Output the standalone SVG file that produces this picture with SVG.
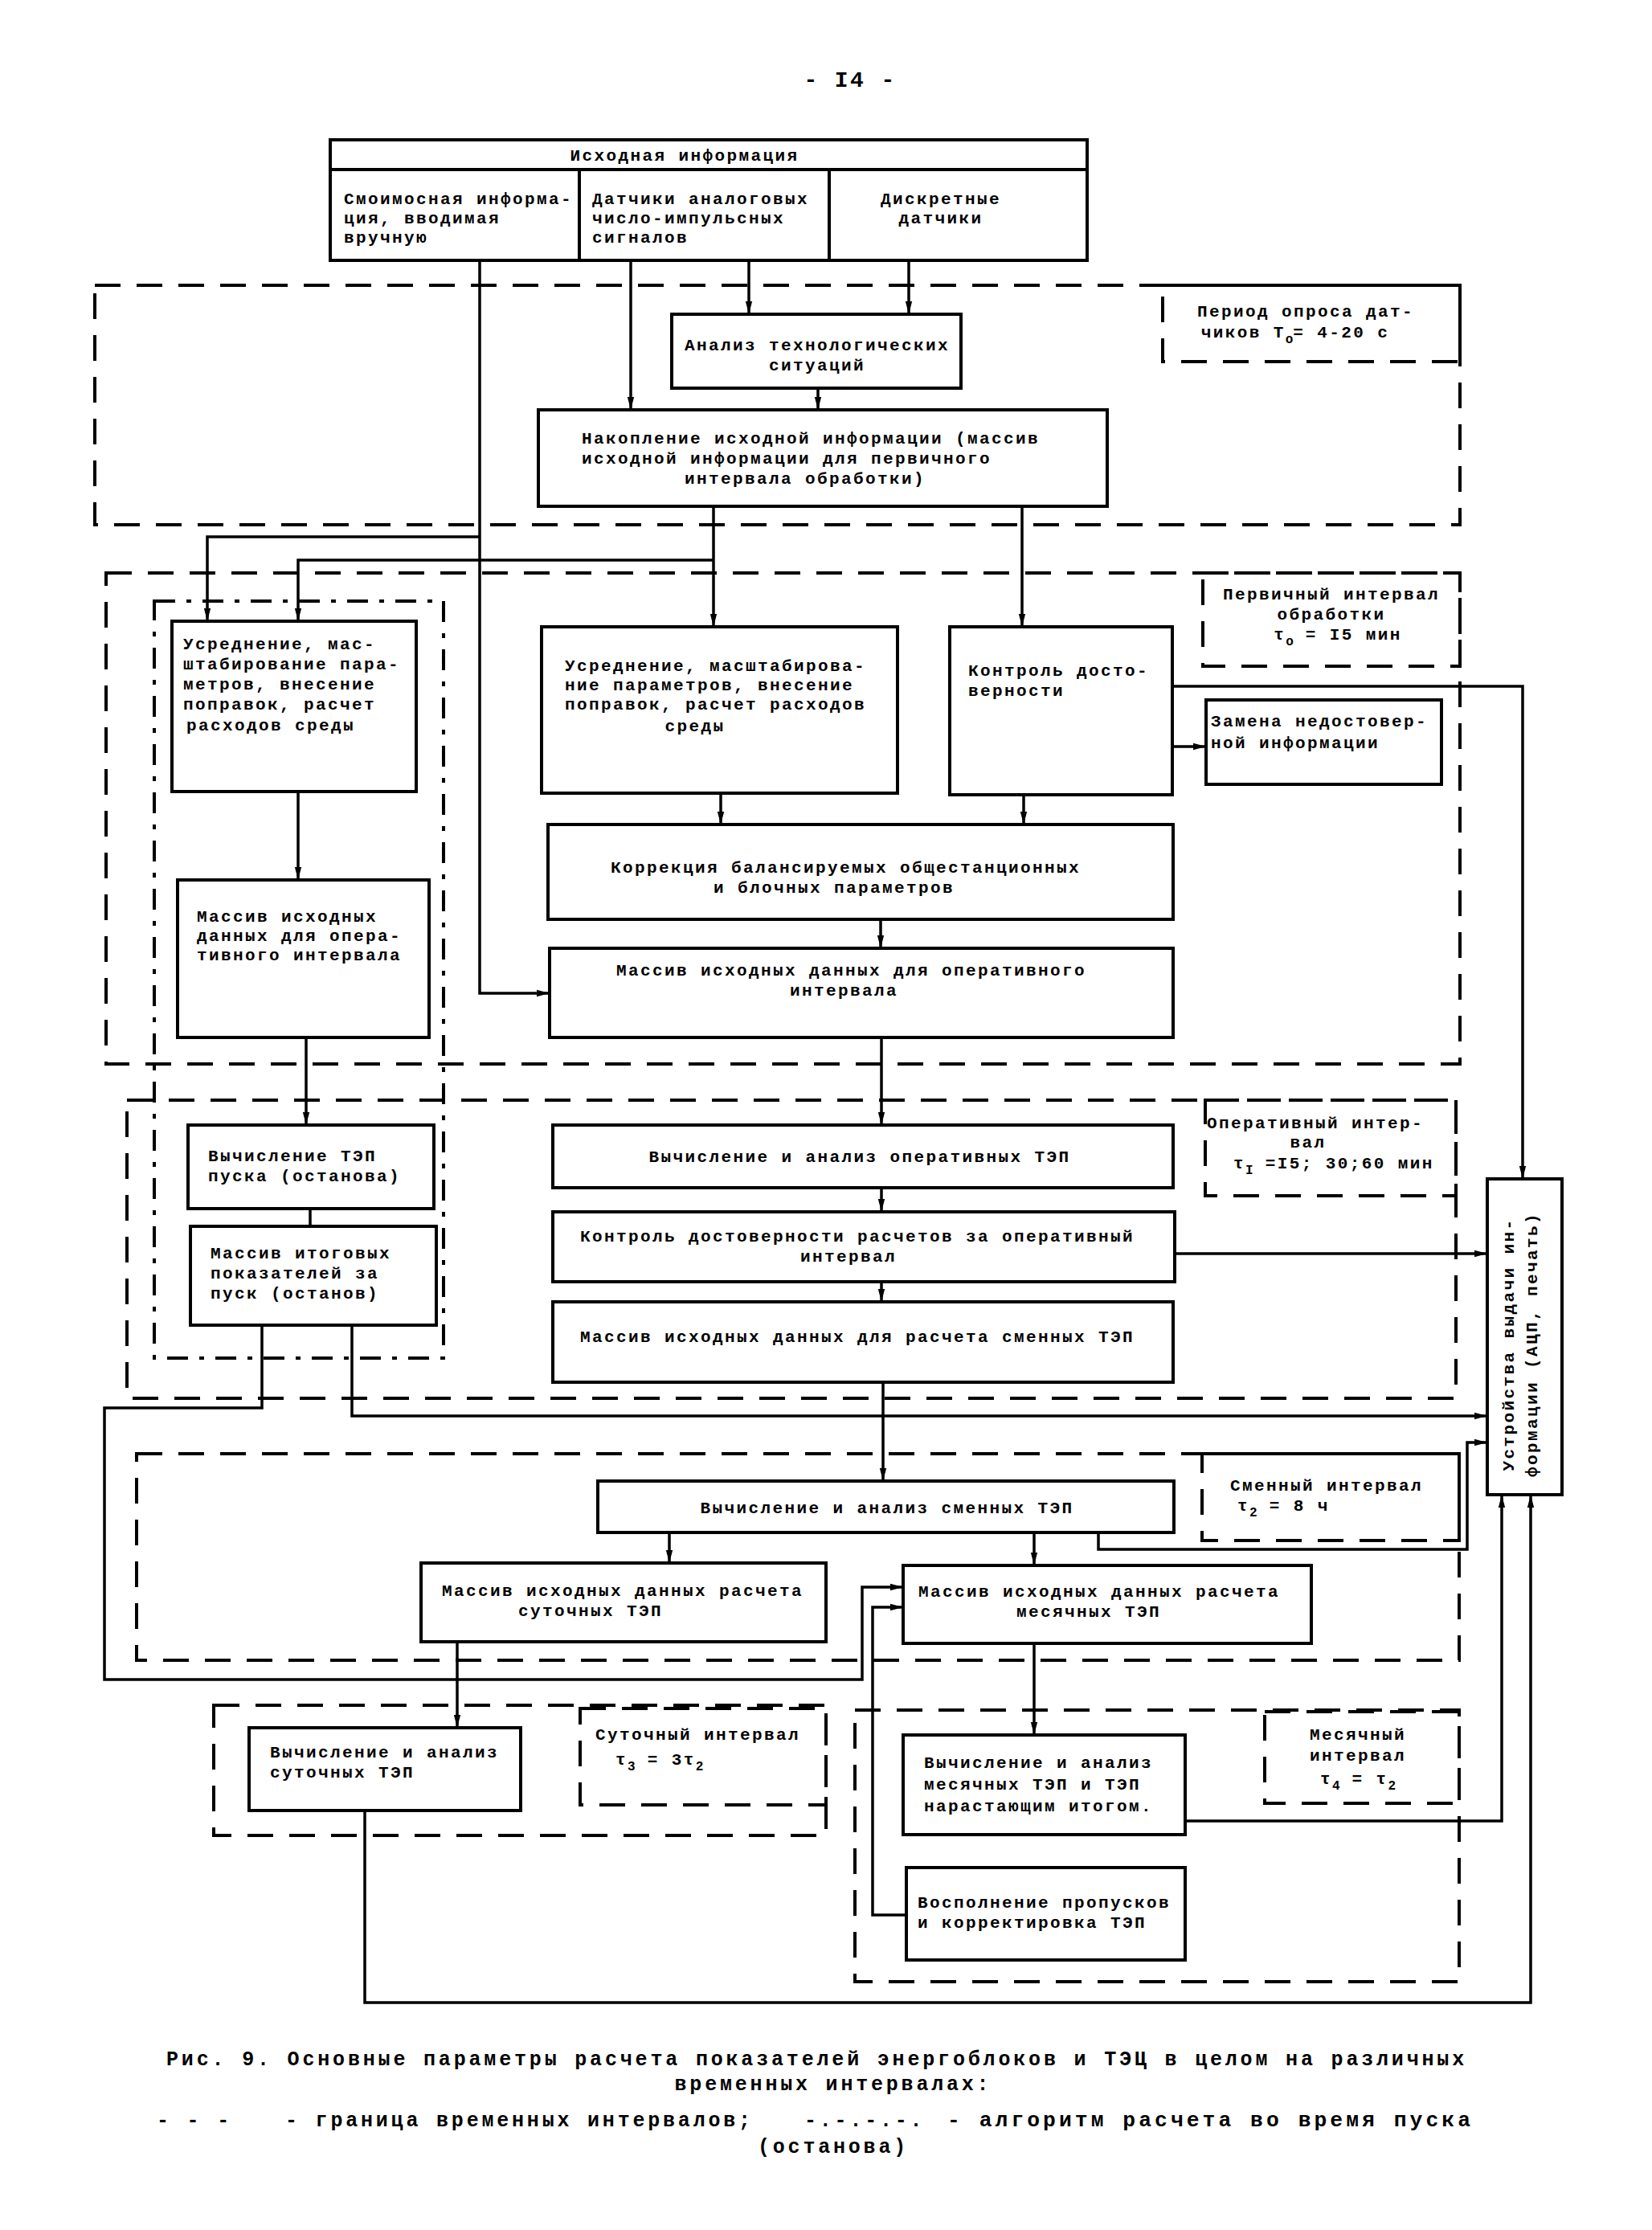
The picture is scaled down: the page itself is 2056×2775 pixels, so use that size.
<svg xmlns="http://www.w3.org/2000/svg" width="2056" height="2775" viewBox="0 0 2056 2775">
<defs>
<style>
.box{fill:none;stroke:#000;stroke-width:4}
.reg{fill:none;stroke:#000;stroke-width:4;stroke-dasharray:32 20}
.dd{fill:none;stroke:#000;stroke-width:4;stroke-dasharray:26 14 6 14}
.con{fill:none;stroke:#000;stroke-width:3.5}
text{font-family:"Liberation Mono","DejaVu Sans Mono",monospace;font-size:21px;letter-spacing:2.4px;font-weight:bold;fill:#000}
.c{text-anchor:middle}
.cap{font-size:25px;letter-spacing:3.8px}
.sub{font-size:16px;letter-spacing:0}
</style>
<marker id="ah" viewBox="0 0 10 10" refX="10" refY="5" markerWidth="16" markerHeight="16" markerUnits="userSpaceOnUse" orient="auto"><path d="M0,2.4 L10,5 L0,7.6 z" fill="#000"/></marker>
</defs>
<rect x="0" y="0" width="2056" height="2775" fill="#fff"/>

<text x="1058" y="108" class="c" style="font-size:28px">- I4 -</text>

<g id="regions">
<rect id="reg-poll" class="reg" x="118" y="355" width="1699" height="298"/>
<rect id="lbl-poll" class="reg" x="1447" y="355" width="370" height="95"/>
<rect id="reg-primary" class="reg" x="132" y="713" width="1685" height="611"/>
<rect id="lbl-primary" class="reg" x="1497" y="713" width="320" height="116"/>
<rect id="reg-start" class="dd" x="192" y="748" width="360" height="942"/>
<rect id="reg-oper" class="reg" x="158" y="1369" width="1654" height="371"/>
<rect id="lbl-oper" class="reg" x="1500" y="1369" width="312" height="119"/>
<rect id="reg-shift" class="reg" x="170" y="1809" width="1646" height="257"/>
<rect id="lbl-shift" class="reg" x="1496" y="1809" width="320" height="108"/>
<rect id="reg-day" class="reg" x="266" y="2122" width="762" height="162"/>
<rect id="lbl-day" class="reg" x="722" y="2126" width="306" height="120"/>
<rect id="reg-month" class="reg" x="1064" y="2128" width="752" height="338"/>
<rect id="lbl-month" class="reg" x="1574" y="2130" width="242" height="114"/>
</g>

<g id="region-labels">
<text x="1625" y="394" class="c">Период опроса дат-</text>
<text x="1612" y="420" class="c">чиков Т<tspan dy="7" class="sub">о</tspan><tspan dy="-7">= 4-20 с</tspan></text>
<text x="1657" y="746" class="c">Первичный интервал</text>
<text x="1657" y="771" class="c">обработки</text>
<text x="1665" y="796" class="c">τ<tspan dy="7" class="sub">о</tspan><tspan dy="-7"> = I5 мин</tspan></text>
<text x="1502" y="1404">Оперативный интер-</text>
<text x="1628" y="1428" class="c">вал</text>
<text x="1535" y="1454">τ<tspan dy="7" class="sub">I</tspan><tspan dy="-7"> =I5; 30;60 мин</tspan></text>
<text x="1531" y="1855">Сменный интервал</text>
<text x="1540" y="1880">τ<tspan dy="7" class="sub">2</tspan><tspan dy="-7"> = 8 ч</tspan></text>
<text x="741" y="2165">Суточный интервал</text>
<text x="766" y="2196">τ<tspan dy="7" class="sub">3</tspan><tspan dy="-7"> = 3τ</tspan><tspan dy="7" class="sub">2</tspan></text>
<text x="1690" y="2165" class="c">Месячный</text>
<text x="1690" y="2191" class="c">интервал</text>
<text x="1690" y="2220" class="c">τ<tspan dy="7" class="sub">4</tspan><tspan dy="-7"> =  τ</tspan><tspan dy="7" class="sub">2</tspan></text>
</g>

<g id="connectors">
<path class="con" d="M597,324 V1236 H684" marker-end="url(#ah)"/>
<path class="con" d="M597,668 H258 V773" marker-end="url(#ah)"/>
<path class="con" d="M785,324 V510" marker-end="url(#ah)"/>
<path class="con" d="M932,324 V391" marker-end="url(#ah)"/>
<path class="con" d="M1131,324 V391" marker-end="url(#ah)"/>
<path class="con" d="M1018,483 V510" marker-end="url(#ah)"/>
<path class="con" d="M888,630 V780" marker-end="url(#ah)"/>
<path class="con" d="M888,697 H371 V773" marker-end="url(#ah)"/>
<path class="con" d="M1272,630 V780" marker-end="url(#ah)"/>
<path class="con" d="M897,987 V1026" marker-end="url(#ah)"/>
<path class="con" d="M1274,989 V1026" marker-end="url(#ah)"/>
<path class="con" d="M1459,929 H1501" marker-end="url(#ah)"/>
<path class="con" d="M1459,854 H1895 V1467" marker-end="url(#ah)"/>
<path class="con" d="M371,985 V1095" marker-end="url(#ah)"/>
<path class="con" d="M1096,1144 V1180" marker-end="url(#ah)"/>
<path class="con" d="M381,1291 V1400" marker-end="url(#ah)"/>
<path class="con" d="M1097,1291 V1400" marker-end="url(#ah)"/>
<path class="con" d="M1097,1478 V1508" marker-end="url(#ah)"/>
<path class="con" d="M1097,1595 V1620" marker-end="url(#ah)"/>
<path class="con" d="M386,1504 V1526"/>
<path class="con" d="M1462,1560 H1851" marker-end="url(#ah)"/>
<path class="con" d="M326,1649 V1752 H130 V2090 H1073 V1975 H1124" marker-end="url(#ah)"/>
<path class="con" d="M438,1649 V1762 H1851" marker-end="url(#ah)"/>
<path class="con" d="M1099,1720 V1843" marker-end="url(#ah)"/>
<path class="con" d="M1367,1907 V1928 H1826 V1795 H1851" marker-end="url(#ah)"/>
<path class="con" d="M833,1907 V1945" marker-end="url(#ah)"/>
<path class="con" d="M1287,1907 V1948" marker-end="url(#ah)"/>
<path class="con" d="M1128,2383 H1086 V2000 H1124" marker-end="url(#ah)"/>
<path class="con" d="M569,2043 V2150" marker-end="url(#ah)"/>
<path class="con" d="M1287,2045 V2159" marker-end="url(#ah)"/>
<path class="con" d="M1475,2266 H1869 V1860" marker-end="url(#ah)"/>
<path class="con" d="M454,2253 V2492 H1905 V1860" marker-end="url(#ah)"/>
</g>

<g id="n-source">
<rect class="box" x="411" y="174" width="942" height="150"/>
<path class="box" d="M411,211 H1353 M721,211 V324 M1032,211 V324"/>
<text x="852" y="200" class="c">Исходная информация</text>
<text x="428" y="254">Смоимосная информа-</text>
<text x="428" y="278">ция, вводимая</text>
<text x="428" y="302">вручную</text>
<text x="737" y="254">Датчики аналоговых</text>
<text x="737" y="278">число-импульсных</text>
<text x="737" y="302">сигналов</text>
<text x="1171" y="254" class="c">Дискретные</text>
<text x="1171" y="278" class="c">датчики</text>
</g>

<g id="n-analiz">
<rect class="box" x="836" y="391" width="360" height="92"/>
<text x="1017" y="436" class="c">Анализ технологических</text>
<text x="1017" y="461" class="c">ситуаций</text>
</g>

<g id="n-nakop">
<rect class="box" x="670" y="510" width="708" height="120"/>
<text x="724" y="552">Накопление исходной информации (массив</text>
<text x="724" y="577">исходной информации для первичного</text>
<text x="1002" y="602" class="c">интервала обработки)</text>
</g>

<g id="n-usr-left">
<rect class="box" x="214" y="773" width="304" height="212"/>
<text x="228" y="808">Усреднение, мас-</text>
<text x="228" y="833">штабирование пара-</text>
<text x="228" y="858">метров, внесение</text>
<text x="228" y="883">поправок, расчет</text>
<text x="232" y="909">расходов среды</text>
</g>

<g id="n-mass-left">
<rect class="box" x="221" y="1095" width="313" height="196"/>
<text x="245" y="1147">Массив исходных</text>
<text x="245" y="1171">данных для опера-</text>
<text x="245" y="1195">тивного интервала</text>
</g>

<g id="n-usr-mid">
<rect class="box" x="674" y="780" width="443" height="207"/>
<text x="703" y="835">Усреднение, масштабирова-</text>
<text x="703" y="859">ние параметров, внесение</text>
<text x="703" y="883">поправок, расчет расходов</text>
<text x="865" y="910" class="c">среды</text>
</g>

<g id="n-kontrol">
<rect class="box" x="1182" y="780" width="277" height="209"/>
<text x="1205" y="841">Контроль досто-</text>
<text x="1205" y="866">верности</text>
</g>

<g id="n-zamena">
<rect class="box" x="1501" y="871" width="293" height="105"/>
<text x="1507" y="904">Замена недостовер-</text>
<text x="1507" y="931">ной информации</text>
</g>

<g id="n-korr">
<rect class="box" x="682" y="1026" width="778" height="118"/>
<text x="760" y="1086">Коррекция балансируемых общестанционных</text>
<text x="888" y="1111">и блочных параметров</text>
</g>

<g id="n-mass-oper">
<rect class="box" x="684" y="1180" width="776" height="111"/>
<text x="767" y="1214">Массив исходных данных для оперативного</text>
<text x="983" y="1239">интервала</text>
</g>

<g id="n-vych-pusk">
<rect class="box" x="234" y="1400" width="306" height="104"/>
<text x="259" y="1445">Вычисление ТЭП</text>
<text x="259" y="1470">пуска (останова)</text>
</g>

<g id="n-mass-itog">
<rect class="box" x="237" y="1526" width="306" height="123"/>
<text x="262" y="1566">Массив итоговых</text>
<text x="262" y="1591">показателей за</text>
<text x="262" y="1616">пуск (останов)</text>
</g>

<g id="n-vych-oper">
<rect class="box" x="688" y="1400" width="772" height="78"/>
<text x="1070" y="1446" class="c">Вычисление и анализ оперативных ТЭП</text>
</g>

<g id="n-kontr-rasch">
<rect class="box" x="688" y="1508" width="774" height="87"/>
<text x="722" y="1545">Контроль достоверности расчетов за оперативный</text>
<text x="996" y="1570">интервал</text>
</g>

<g id="n-mass-smen">
<rect class="box" x="688" y="1620" width="772" height="100"/>
<text x="722" y="1670">Массив исходных данных для расчета сменных ТЭП</text>
</g>

<g id="n-vych-smen">
<rect class="box" x="744" y="1843" width="717" height="64"/>
<text x="1104" y="1883" class="c">Вычисление и анализ сменных ТЭП</text>
</g>

<g id="n-mass-sut">
<rect class="box" x="524" y="1945" width="504" height="98"/>
<text x="550" y="1986">Массив исходных данных расчета</text>
<text x="645" y="2011">суточных ТЭП</text>
</g>

<g id="n-mass-mes">
<rect class="box" x="1124" y="1948" width="508" height="97"/>
<text x="1143" y="1987">Массив исходных данных расчета</text>
<text x="1265" y="2012">месячных ТЭП</text>
</g>

<g id="n-vych-sut">
<rect class="box" x="310" y="2150" width="338" height="103"/>
<text x="336" y="2187">Вычисление и анализ</text>
<text x="336" y="2212">суточных ТЭП</text>
</g>

<g id="n-vych-mes">
<rect class="box" x="1124" y="2159" width="351" height="124"/>
<text x="1150" y="2200">Вычисление и анализ</text>
<text x="1150" y="2227">месячных ТЭП и ТЭП</text>
<text x="1150" y="2254">нарастающим итогом.</text>
</g>

<g id="n-vospoln">
<rect class="box" x="1128" y="2324" width="347" height="115"/>
<text x="1142" y="2374">Восполнение пропусков</text>
<text x="1142" y="2399">и корректировка ТЭП</text>
</g>

<g id="n-device">
<rect class="box" x="1851" y="1467" width="93" height="393"/>
<text transform="translate(1884,1673) rotate(-90)" class="c">Устройства выдачи ин-</text>
<text transform="translate(1913,1673) rotate(-90)" class="c">формации (АЦП, печать)</text>
</g>

<g id="caption">
<text x="207" y="2570" class="cap" textLength="1619" lengthAdjust="spacingAndGlyphs">Рис. 9. Основные параметры расчета показателей энергоблоков и ТЭЦ в целом на различных</text>
<text x="1037" y="2601" class="cap c">временных интервалах:</text>
<text x="195" y="2646" class="cap">- - -</text>
<text x="355" y="2646" class="cap">- граница временных интервалов;</text>
<text x="1001" y="2646" class="cap">-.-.-.-.</text>
<text x="1179" y="2646" class="cap" textLength="655" lengthAdjust="spacingAndGlyphs">- алгоритм расчета во время пуска</text>
<text x="1037" y="2679" class="cap c">(останова)</text>
</g>
</svg>
